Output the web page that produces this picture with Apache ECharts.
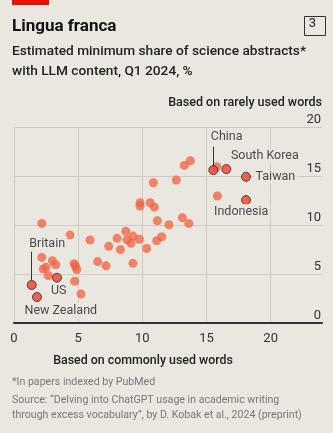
<!DOCTYPE html>
<html><head><meta charset="utf-8">
<script src="https://cdn.jsdelivr.net/npm/echarts@6/dist/echarts.min.js"></script>
<style>html,body{margin:0;padding:0;background:#e9e7e0}#c{width:333px;height:433px}</style>
</head><body><div id="c"></div>
<script>
// ---- data ----
const xTickValues = [0, 5, 10, 15, 20];
const yTickValues = [0, 5, 10, 15, 20];
const otherCommon = [13.74,13.27,15.80,12.65,10.86,9.82,9.82,10.60,10.94,15.85,2.16,4.36,11.17,12.08,13.12,13.62,8.71,9.27,9.77,8.03,8.81,9.12,11.51,11.12,5.92,7.38,8.29,10.34,2.16,2.99,3.25,2.49,2.28,2.67,4.68,4.79,4.89,4.73,5.22,6.52,7.17,9.27];
const otherRare   = [16.61,16.14,16.00,14.64,14.36,12.31,11.98,12.31,11.87,13.00,10.20,9.00,10.47,10.06,10.78,10.20,9.39,8.90,8.57,8.67,8.53,8.16,8.83,8.42,8.50,7.85,7.52,7.63,6.72,6.38,5.97,5.70,5.53,4.86,6.07,5.83,5.48,4.27,2.97,6.29,5.85,6.11];
const highlightNames  = ['China','South Korea','Taiwan','Indonesia','Britain','US','New Zealand'];
const highlightCommon = [15.53,16.55,18.08,18.08,1.38,3.35,1.79];
const highlightRare   = [15.66,15.76,14.97,12.59,3.89,4.64,2.66];

// ---- label layout (styles) ----
const labelOffsets = {
  'China':       {align:'left', offset:[-4.5,-33]},
  'South Korea': {align:'left', offset:[2.5,-13]},
  'Taiwan':      {align:'left', offset:[7.5,0]},
  'Indonesia':   {align:'left', offset:[-34,11.5]},
  'Britain':     {align:'left', offset:[-4.5,-41.5]},
  'US':          {align:'left', offset:[-8,13.5]},
  'New Zealand': {align:'left', offset:[-14.5,13.5]}
};
const leaders = {
  'China':   [16.1, 18.05],
  'Britain': [4.35, 7.3]
};

const FONT = 'Roboto';
const BG = '#e9e7e0';
const chart = echarts.init(document.getElementById('c'), null, {renderer:'canvas'});

const otherData = otherCommon.map((v,i)=>[v, otherRare[i]]);
const hlData = highlightNames.map((n,i)=>({
  name:n, value:[highlightCommon[i], highlightRare[i]],
  label:{show:true, position:'inside', formatter:n, align:labelOffsets[n].align, verticalAlign:'middle', offset:labelOffsets[n].offset}
}));
const markLines = highlightNames.filter(n=>leaders[n]).map(n=>{
  const i = highlightNames.indexOf(n);
  return [{coord:[highlightCommon[i], leaders[n][0]]},{coord:[highlightCommon[i], leaders[n][1]]}];
});

chart.setOption({
  backgroundColor: BG,
  animation:false,
  textStyle:{fontFamily:FONT},
  grid:{left:14, right:11, top:127.7, bottom:110, containLabel:false},
  xAxis:{
    type:'value', min:0, max:24, interval:5,
    axisLine:{show:true, lineStyle:{color:'#333', width:2}},
    axisTick:{show:false},
    axisLabel:{color:'#333', fontSize:13, margin:9, showMaxLabel:false,
      formatter:v=> xTickValues.includes(v) ? String(v) : ''},
    splitLine:{show:true, showMaxLine:false, lineStyle:{color:'#cdcbc4', width:1}}
  },
  yAxis:{
    type:'value', min:0, max:20, interval:5, position:'right',
    axisLine:{show:false}, axisTick:{show:false},
    axisLabel:{inside:true, color:'#333', fontSize:13, margin:1, verticalAlign:'bottom', align:'right', padding:[0,0,1,0],
      formatter:v=> yTickValues.includes(v) ? String(v) : ''},
    splitLine:{show:true, lineStyle:{color:'#cdcbc4', width:1}}
  },
  series:[
    {type:'scatter', data:otherData, symbolSize:9, silent:true,
     itemStyle:{color:'#f0603f', opacity:0.75}},
    {type:'scatter', data:hlData, symbolSize:9, silent:true, z:5,
     itemStyle:{color:'#f23d2b', borderColor:'#2a2a2a', borderWidth:1},
     label:{color:'#222', fontSize:12.5, fontFamily:FONT, backgroundColor:BG, padding:[1,2]},
     markLine:{silent:true, symbol:'none', label:{show:false},
       lineStyle:{color:'#333', width:1, type:'solid'}, data:markLines}}
  ],
  graphic:[
    {type:'rect', left:12, top:0, shape:{width:37, height:5}, style:{fill:'#e3120b'}},
    {type:'text', left:12, top:18, style:{text:'Lingua franca', font:'bold 17px '+FONT, fill:'#111'}},
    {type:'rect', left:302, top:14, shape:{width:21, height:19}, style:{fill:'none', stroke:'#333', lineWidth:1}},
    {type:'text', x:312.5, y:24, style:{text:'3', font:'13px '+FONT, fill:'#222', align:'center', verticalAlign:'middle'}},
    {type:'text', left:12, top:45, style:{text:'Estimated minimum share of science abstracts*', font:'500 13.7px '+FONT, fill:'#222'}},
    {type:'text', left:12, top:65, style:{text:'with LLM content, Q1 2024, %', font:'500 13.7px '+FONT, fill:'#222'}},
    {type:'text', x:322, y:103, style:{text:'Based on rarely used words', font:'500 12.5px '+FONT, fill:'#222', align:'right', verticalAlign:'middle'}},
    {type:'text', x:143, y:361, style:{text:'Based on commonly used words', font:'500 12.4px '+FONT, fill:'#222', align:'center', verticalAlign:'middle'}},
    {type:'text', x:12, y:382, style:{text:'*In papers indexed by PubMed', font:'10.6px "Liberation Sans Narrow", '+FONT, fill:'#777', verticalAlign:'middle'}},
    {type:'text', x:12, y:400, style:{text:'Source: \u201cDelving into ChatGPT usage in academic writing', font:'10.6px "Liberation Sans Narrow", '+FONT, fill:'#777', verticalAlign:'middle'}},
    {type:'text', x:12, y:415, style:{text:'through excess vocabulary\u201d, by D. Kobak et al., 2024 (preprint)', font:'10.6px "Liberation Sans Narrow", '+FONT, fill:'#777', verticalAlign:'middle'}}
  ]
});
</script></body></html>
